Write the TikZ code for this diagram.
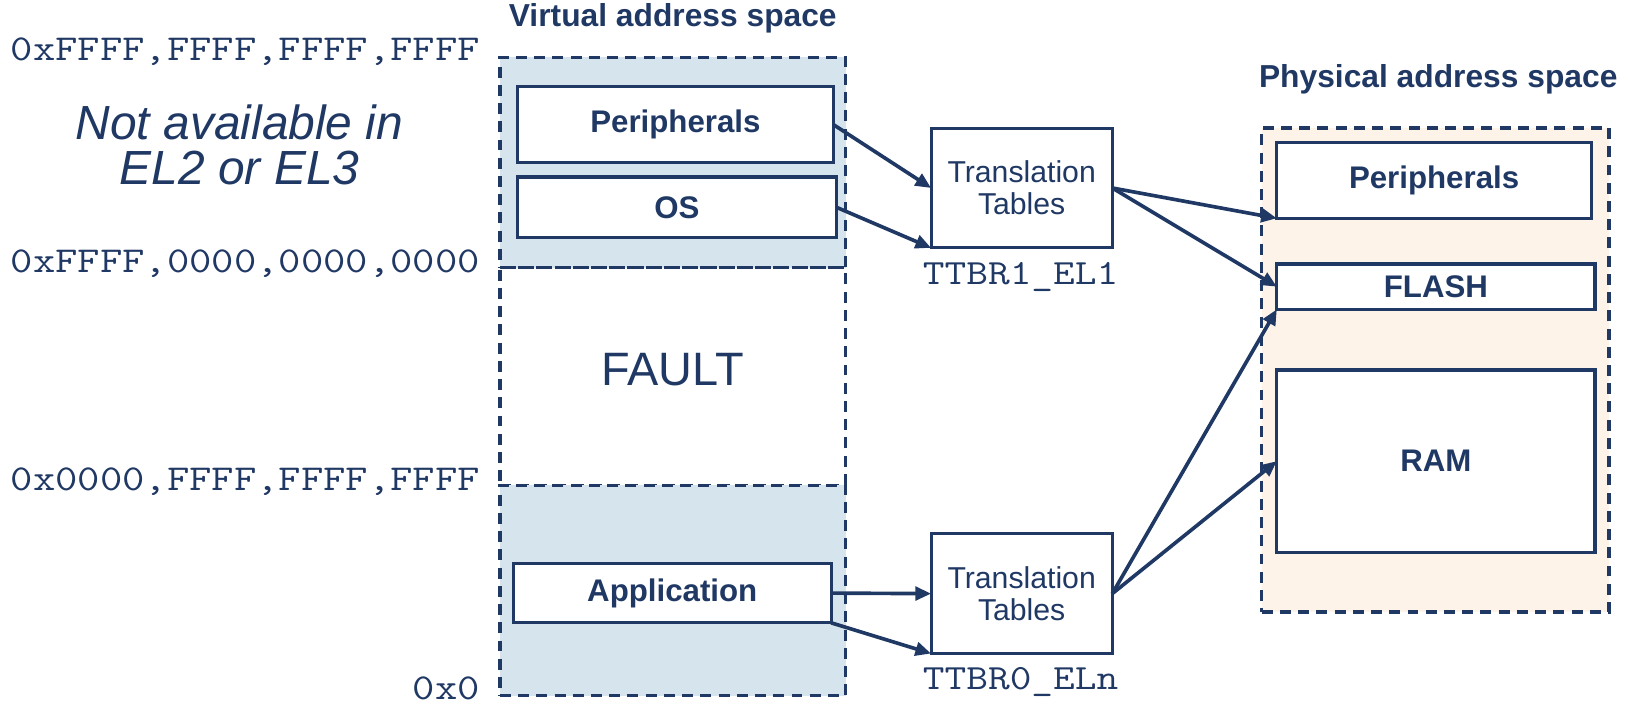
\documentclass[tikz,border=0pt]{standalone}
\usepackage{fontspec}
\setmainfont{Liberation Sans}
\newfontfamily\addrfont{Latin Modern Mono}[FakeStretch=1.19]
\usetikzlibrary{arrows.meta}
\definecolor{navy}{HTML}{203864}
\definecolor{vfill}{HTML}{D6E4ED}
\definecolor{pfill}{HTML}{FEF3E8}
\tikzset{
  region/.style={draw=navy, line width=3.2pt, dash pattern=on 10.5pt off 7pt,
    inner sep=0pt, outer sep=0pt},
  memblock/.style={draw=navy, fill=white, line width=3pt, inner sep=0pt,
    outer sep=0pt, text=navy, font=\bfseries\fontsize{30}{32}\selectfont},
  ttbox/.style={draw=navy, fill=white, line width=3pt, inner sep=0pt,
    outer sep=0pt, text=navy, align=center,
    font=\fontsize{29}{31}\selectfont,
    minimum width=174pt, minimum height=115pt},
  addr/.style={text=navy, anchor=base east, inner sep=0pt,
    font=\addrfont\fontsize{35}{37}\selectfont},
  reg/.style={text=navy, anchor=base, inner sep=0pt,
    font=\addrfont\fontsize{34}{36}\selectfont},
  heading/.style={text=navy, inner sep=0pt, font=\bfseries\fontsize{30.5}{32}\selectfont},
  link/.style={draw=navy, line width=3.5pt, -{Triangle[length=15pt,width=13pt]}},
}
\begin{document}
\begin{tikzpicture}[x=1pt,y=-1pt]
\useasboundingbox (0,0) rectangle (1568,677);

% virtual address space column
\node[region, fill=vfill, minimum width=332pt, minimum height=202pt] (vtop) at (646,156) {};
\node[region, minimum width=332pt, minimum height=209pt] (fault) at (646,361.5) {};
\node[text=navy, inner sep=0pt, font=\fontsize{45}{47}\selectfont] (faultlbl) at (646,355) {FAULT};
\node[region, fill=vfill, minimum width=332pt, minimum height=202pt] (vbot) at (646,567) {};
\node[heading] (vtitle) at (646,18) {Virtual address space};

\node[memblock, minimum width=303pt, minimum height=73pt] (vper) at (648.5,119.5) {Peripherals};
\node[memblock, minimum width=306pt, minimum height=58pt] (vos) at (650,199) {OS};
\node[memblock, minimum width=305pt, minimum height=57pt] (vapp) at (645.5,569.5) {Application};

% address labels
\node[addr] (a1) at (461,58.5) {0xFFFF,FFFF,FFFF,FFFF};
\node[addr] (a2) at (461,261.5) {0xFFFF,0000,0000,0000};
\node[addr] (a3) at (461,470.5) {0x0000,FFFF,FFFF,FFFF};
\node[addr] (a4) at (461,672) {0x0};
\node[text=navy, inner sep=0pt, align=center,
      font=\itshape\fontsize{46}{43}\selectfont] (na) at (230,139) {Not available in\\EL2 or EL3};

% translation tables
\node[ttbox] (tt1) at (981,180.5) {Translation\\Tables};
\node[reg] (r1) at (980,273.5) {TTBR1\_EL1};
\node[ttbox] (tt0) at (981,570) {Translation\\Tables};
\node[reg] (r0) at (980,662.5) {TTBR0\_ELn};

% physical address space column
\node[region, fill=pfill, minimum width=333.5pt, minimum height=464.5pt] (phys) at (1378.25,355.25) {};
\node[heading] (ptitle) at (1381,76) {Physical address space};
\node[memblock, minimum width=302pt, minimum height=72.6pt] (pper) at (1377,173.3) {Peripherals};
\node[memblock, minimum width=305.5pt, minimum height=43.5pt] (flash) at (1378.75,275.25) {FLASH};
\node[memblock, minimum width=305.5pt, minimum height=175pt] (ram) at (1378.75,442.8) {RAM};

% mappings
\draw[link] (vper.east) -- (tt1.west);
\draw[link] (vos.east) -- (tt1.south west);
\draw[link] (vapp.east) -- (tt0.west);
\draw[link] (vapp.south east) -- (tt0.south west);
\draw[link] (tt1.east) -- (pper.south west);
\draw[link] (tt1.east) -- (flash.west);
\draw[link] (tt0.east) -- (flash.south west);
\draw[link] (tt0.east) -- (ram.west);
\end{tikzpicture}
\end{document}
